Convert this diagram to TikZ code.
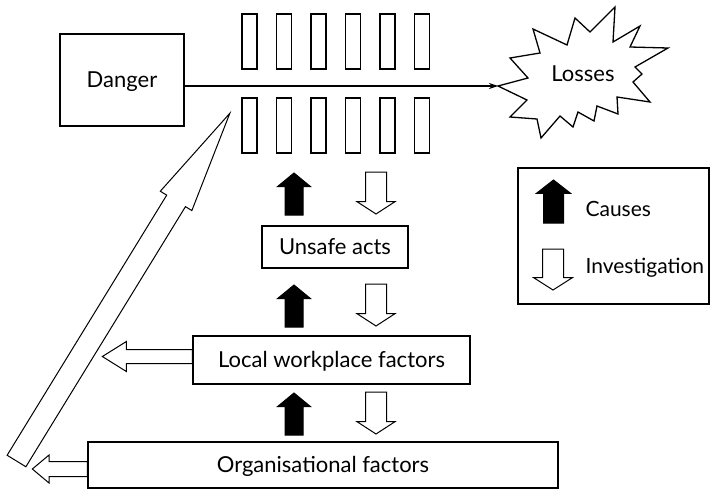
\documentclass[tikz,border=0pt]{standalone}
\usepackage{fontspec}
\setmainfont{Lato}
\usetikzlibrary{shapes.arrows,arrows.meta,calc}

\begin{document}
\begin{tikzpicture}[x=1pt,y=-1pt,
  lbl/.style={font=\fontsize{22}{26}\selectfont},
  keytext/.style={font=\fontsize{21}{25}\selectfont, anchor=base west},
  box/.style={draw, line width=1.3pt, inner sep=0pt, lbl, text height=17pt, text depth=2pt},
  bar/.style={draw, line width=1.2pt, minimum width=15pt, minimum height=55pt, inner sep=0pt},
  blockarrow/.style={single arrow, draw, line width=1pt, anchor=tail, outer sep=0pt},
  causearrow/.style={blockarrow, fill=black, inner sep=8.5pt, minimum height=42pt,
    single arrow head extend=7.5pt, single arrow tip angle=101, shape border rotate=90},
  probearrow/.style={blockarrow, fill=white, inner sep=10pt, minimum height=42pt,
    single arrow head extend=8.5pt, single arrow tip angle=114, shape border rotate=270},
  sidearrow/.style={blockarrow, fill=white, shape border rotate=180}
]
\useasboundingbox (0,0) rectangle (711,490);

% main boxes
\node[box, minimum width=124pt, minimum height=92pt] (danger) at (122,80) {Danger};
\node[box, minimum width=146pt, minimum height=42pt] (unsafe) at (335,247) {Unsafe acts};
\node[box, minimum width=277pt, minimum height=48pt] (local) at (331.5,360) {Local workplace factors};
\node[box, minimum width=470pt, minimum height=46pt] (org) at (323,465) {Organisational factors};

% defences: two rows of barriers
\foreach \i in {0,...,5} {
  \node[bar] (top\i) at (249.5+34.5*\i, 41.5) {};
  \node[bar] (bot\i) at (249.5+34.5*\i, 125.5) {};
}

% losses burst
\coordinate (lp) at (498,86);
\draw[line width=1.3pt, line join=miter, miter limit=20]
  (lp) -- (528,78) -- (510,58) -- (540,53) -- (533,29) -- (567,45) -- (575,18)
  -- (590,32) -- (615,7) -- (613,42) -- (640,26) -- (630,47) -- (668,48)
  -- (635,67) -- (642,74) -- (633,82) -- (650,102) -- (617,97) -- (618,114)
  -- (597,106) -- (594,121) -- (578,112) -- (573,127) -- (560,116) -- (541,138)
  -- (537,119) -- (510,117) -- (527,100) -- cycle;
\node[lbl, anchor=base] (losses) at (583,81) {Losses};

% accident trajectory
\draw[line width=1.1pt, -{Stealth[length=9pt,width=6pt]}] (danger.east |- lp) -- (lp);

% causal chain (up) and investigation (down)
\node[causearrow] (c1) at (294,215) {};
\node[causearrow] (c2) at (294,327) {};
\node[causearrow] (c3) at (294,435) {};
\node[probearrow] (p1) at (376,172) {};
\node[probearrow] (p2) at (376,284) {};
\node[probearrow] (p3) at (376,392) {};

% side arrows out of the two factor boxes
\node[sidearrow, inner sep=6.5pt, minimum height=90pt,
  single arrow head extend=8pt, single arrow tip angle=64] (lside)
  at ($(local.west)+(0,-3.5)$) {};
\node[sidearrow, inner sep=7pt, minimum height=55pt,
  single arrow head extend=6.5pt, single arrow tip angle=80] (oside)
  at ($(org.west)+(0,4)$) {};

% long arrow back up to the defences
\coordinate (bigtail) at (16.5,461);
\node[blockarrow, fill=white, rotate=58.47, inner sep=10.5pt, minimum height=408pt,
  single arrow head extend=7.5pt, single arrow tip angle=20.4] (big) at (bigtail) {};

% legend
\node[draw, line width=1.3pt, minimum width=191pt, minimum height=136pt, inner sep=0pt]
  (legend) at (613.5,236) {};
\node[causearrow, inner sep=9.5pt, minimum height=43pt, single arrow head extend=7pt,
  single arrow tip angle=104] (lc) at (553.5,223) {};
\node[probearrow, inner sep=10pt, minimum height=41pt, single arrow head extend=9pt,
  single arrow tip angle=115] (lp2) at (553,249) {};
\node[keytext] (tc) at (582,216) {Causes};
\node[keytext] (ti) at (582,273) {Investigation};
\end{tikzpicture}
\end{document}
